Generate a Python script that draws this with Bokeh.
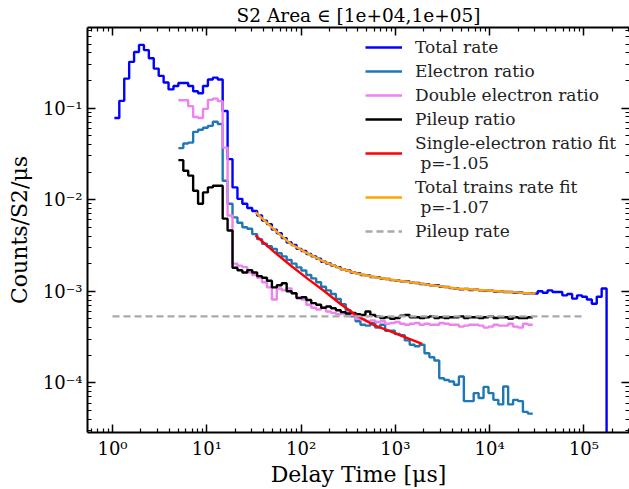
import numpy as np
from bokeh.plotting import figure
from bokeh.models import (LogAxis, FixedTicker, CustomJSTickFormatter, Legend,
                          LegendItem, Range1d)
from bokeh.embed import file_html
from bokeh.resources import INLINE

FONT = "DejaVu Serif"

# ---- histogram bin grid (log-spaced bins) ----
log_edge_start = 0.02
log_bin_width = 0.0522
n_bins = 100
edges = 10 ** (log_edge_start + log_bin_width * np.arange(n_bins + 1))

# ---- Total rate (all bins) ----
total_rate = [
    0.078, 0.12, 0.21, 0.32, 0.41, 0.49, 0.43, 0.35, 0.27, 0.225,
    0.19, 0.16, 0.174, 0.188, 0.188, 0.174, 0.153, 0.145, 0.174, 0.205,
    0.215, 0.205, 0.093, 0.0277, 0.0136, 0.0102, 0.0090, 0.0081, 0.0075, 0.0067,
    0.0059, 0.0054, 0.0047, 0.0043, 0.0038, 0.0034, 0.0032, 0.0029, 0.00275, 0.00255,
    0.0024, 0.00226, 0.0021, 0.00201, 0.0019, 0.00183, 0.00173, 0.00168, 0.0016, 0.00157,
    0.0015, 0.00149, 0.00143, 0.00142, 0.00137, 0.00136, 0.00132, 0.00131, 0.00128, 0.00128,
    0.00124, 0.00123, 0.0012, 0.00119, 0.00116, 0.00116, 0.00112, 0.00111, 0.00108, 0.00107,
    0.00105, 0.00106, 0.00103, 0.00104, 0.00102, 0.00101, 0.00101, 0.00099, 0.0010, 0.00098,
    0.00098, 0.00096, 0.00097, 0.00095, 0.00095, 0.00094,
    0.00100, 0.00096, 0.00102, 0.00098, 0.00098, 0.00090, 0.00093, 0.00083, 0.00090, 0.00087,
    0.00081, 0.00073, 0.00087, 0.00107,
]

# ---- ratios (start at bin 13) ----
ratio_start_bin = 13
electron_ratio = [
    0.0365, 0.041, 0.042, 0.055, 0.058, 0.061, 0.064, 0.071, 0.067,
    0.0161, 0.0090, 0.0064, 0.0056, 0.0050, 0.0048, 0.0042, 0.0037,
    0.0033, 0.0031, 0.0029, 0.0026, 0.0024, 0.0022, 0.0020, 0.00182, 0.00168, 0.0015,
    0.00138, 0.00125, 0.00112, 0.00102, 0.00093, 0.00082, 0.00072, 0.00062, 0.00053, 0.00047,
    0.00043, 0.00042, 0.00045, 0.0004, 0.00043, 0.00037, 0.00037, 0.00034, 0.00033, 0.00029,
    0.00026, 0.00025, 0.00026, 0.00021, 0.00019, 0.000175, 0.000112, 0.000107, 0.000103, 0.000095,
    0.000117, 0.000063, 0.000063, 0.000077, 0.000068, 0.00009, 0.000077, 0.000065, 0.000058, 0.000091,
    0.000058, 0.000065, 0.000063, 0.000048, 0.000046,
]
double_electron_ratio = [
    0.122, 0.122, 0.105, 0.08, 0.078, 0.098, 0.123, 0.127, 0.119,
    0.037, 0.0067, 0.0020, 0.0019, 0.00183, 0.0016, 0.0015, 0.0014,
    0.00125, 0.0011, 0.00081, 0.00107, 0.00102, 0.00107, 0.00095, 0.00086, 0.00081, 0.00071,
    0.00066, 0.00063, 0.00066, 0.0006, 0.00058, 0.00056, 0.00057, 0.00054, 0.00055, 0.0005,
    0.00049, 0.00047, 0.00048, 0.00046, 0.00047, 0.00044, 0.00045, 0.00046, 0.00044, 0.00043,
    0.00044, 0.00045, 0.00043, 0.00044, 0.00043, 0.00043, 0.00045, 0.00044, 0.00043, 0.00043,
    0.00041, 0.00042, 0.00043, 0.00043, 0.00042, 0.0004, 0.00041, 0.00043, 0.00042, 0.00042,
    0.00044, 0.00041, 0.0004, 0.00044, 0.00043,
]
pileup_ratio = [
    0.027, 0.0207, 0.0183, 0.0125, 0.0090, 0.0120, 0.0136, 0.0142, 0.0142,
    0.0062, 0.0046, 0.0018, 0.00169, 0.0016, 0.0017, 0.0016, 0.00146,
    0.0014, 0.0013, 0.0011, 0.00116, 0.00122, 0.0010, 0.00095, 0.00084, 0.00086, 0.0008,
    0.00074, 0.00071, 0.00066, 0.00068, 0.00065, 0.00062, 0.00059, 0.00057, 0.00058, 0.00056,
    0.00055, 0.0006, 0.00055, 0.00053, 0.00051, 0.00052, 0.0005, 0.00051, 0.00054, 0.00055,
    0.00052, 0.00052, 0.00051, 0.00052, 0.00053, 0.00051, 0.00052, 0.00051, 0.00052, 0.00052,
    0.00053, 0.00051, 0.00052, 0.00052, 0.00051, 0.00052, 0.00053, 0.00051, 0.00052, 0.00052,
    0.0005, 0.00052, 0.00051, 0.00051, 0.00052,
]

# ---- fit curves ----
se_fit_x = [32.8, 51, 77, 116, 174, 262, 393, 590, 887, 1320, 1923]
se_fit_y = [0.00406, 0.00272, 0.00192, 0.00138, 0.00101, 0.000724, 0.000537,
            0.000427, 0.000363, 0.000309, 0.000265]
tr_fit_x = [32.8, 51, 77, 116, 174, 262, 393, 590, 887, 1845, 4500, 30600]
tr_fit_y = [0.0073, 0.0048, 0.0033, 0.0026, 0.0021, 0.00177, 0.00156, 0.00143,
            0.00134, 0.00121, 0.00107, 0.00094]

pileup_rate = 5.3e-4
pileup_rate_x = [1.0, 1.0e5]

x_major = [1, 10, 100, 1e3, 1e4, 1e5]
y_major = [1e-4, 1e-3, 1e-2, 1e-1]
x_minor = [m * 10.0 ** k for k in range(-1, 6) for m in range(2, 10)]
y_minor = [m * 10.0 ** k for k in range(-5, 0) for m in range(2, 10)]

labels = ["Total rate", "Electron ratio", "Double electron ratio", "Pileup ratio",
          "Single-electron ratio fit\n p=-1.05", "Total trains rate fit\n p=-1.07",
          "Pileup rate"]

p = figure(width=629, height=489, x_axis_type="log", y_axis_type="log",
           x_range=Range1d(0.543, 10 ** 5.483), y_range=Range1d(2.86e-5, 0.759),
           output_backend="svg", toolbar_location=None,
           min_border_left=87, min_border_right=0, min_border_top=26, min_border_bottom=56,
           title="S2 Area \u2208 [1e+04,1e+05]")
p.outline_line_color = None
p.grid.visible = False
p.background_fill_color = "white"

p.title.text_font = FONT
p.title.text_font_size = "18.5px"
p.title.text_font_style = "normal"
p.title.text_color = "black"
p.title.align = "center"
p.title.standoff = 4

fmt_code = """
const sup = {"-": "\\u207b", "0": "\\u2070", "1": "\\u00b9", "2": "\\u00b2", "3": "\\u00b3",
             "4": "\\u2074", "5": "\\u2075", "6": "\\u2076", "7": "\\u2077", "8": "\\u2078", "9": "\\u2079"};
const e = Math.round(Math.log(tick) / Math.LN10);
const s = String(e);
let out = "10";
for (let i = 0; i < s.length; i++) { out += sup[s[i]]; }
return out;
"""

def style_axis(ax, major, minor, show_labels, show_line=True):
    ax.ticker = FixedTicker(ticks=major, minor_ticks=minor)
    ax.formatter = CustomJSTickFormatter(code=fmt_code)
    ax.major_tick_in = 8
    ax.major_tick_out = 0
    ax.minor_tick_in = 4
    ax.minor_tick_out = 0
    ax.major_tick_line_width = 1.5
    ax.minor_tick_line_width = 1.2
    ax.major_tick_line_color = "black"
    ax.minor_tick_line_color = "black"
    ax.axis_line_width = 2
    ax.axis_line_color = "black" if show_line else None
    ax.major_label_text_font = FONT
    if show_labels:
        ax.major_label_text_font_size = "18px"
        ax.major_label_text_color = "black"
        ax.major_label_standoff = 5
        ax.axis_label_text_font = FONT
        ax.axis_label_text_font_size = "22px"
        ax.axis_label_text_font_style = "normal"
        ax.axis_label_text_color = "black"
    else:
        ax.major_label_text_font_size = "1px"
        ax.major_label_text_color = None
        ax.major_label_standoff = 0

style_axis(p.xaxis[0], x_major, x_minor, True)
style_axis(p.yaxis[0], y_major, y_minor, True)
p.xaxis[0].axis_label = "Delay Time [\u03bcs]"
p.xaxis[0].axis_label_standoff = 0
p.yaxis[0].axis_label = "Counts/S2/\u03bcs"
p.yaxis[0].axis_label_standoff = 8

top_ax = LogAxis()
style_axis(top_ax, x_major, x_minor, False)
p.add_layout(top_ax, "above")
right_ax = LogAxis()
style_axis(right_ax, y_major, y_minor, False, show_line=False)
p.add_layout(right_ax, "right")

LW = 2.4
r_total = p.step(list(edges), total_rate + [1e-9], mode="after", line_color="#0000ff", line_width=LW)
n = len(electron_ratio)
ratio_edges = list(edges[ratio_start_bin:ratio_start_bin + n + 1])
r_el = p.step(ratio_edges, electron_ratio + [electron_ratio[-1]], mode="after",
              line_color="#1f77b4", line_width=LW)
r_de = p.step(ratio_edges, double_electron_ratio + [double_electron_ratio[-1]], mode="after",
              line_color="#ee82ee", line_width=LW)
r_pu = p.step(ratio_edges, pileup_ratio + [pileup_ratio[-1]], mode="after",
              line_color="black", line_width=LW)
r_se = p.line(se_fit_x, se_fit_y, line_color="#ff0000", line_width=LW)
r_tr = p.line(tr_fit_x, tr_fit_y, line_color="#ffa500", line_width=LW)
r_pr = p.line(pileup_rate_x, [pileup_rate, pileup_rate], line_color="#a9a9a9",
              line_width=LW, line_dash="7 4")

renderers = [r_total, r_el, r_de, r_pu, r_se, r_tr, r_pr]
legend = Legend(items=[LegendItem(label=l, renderers=[r]) for l, r in zip(labels, renderers)],
                location=(278, 191))
legend.border_line_color = None
legend.background_fill_alpha = 0
legend.label_text_font = FONT
legend.label_text_font_size = "17px"
legend.label_text_line_height = 0.88
legend.label_text_color = "#222222"
legend.glyph_width = 37
legend.glyph_height = 20
legend.label_height = 20
legend.label_standoff = 13
legend.spacing = 4
legend.padding = 0
legend.margin = 0
p.add_layout(legend)

open("out.html", "w").write(file_html(p, INLINE))
